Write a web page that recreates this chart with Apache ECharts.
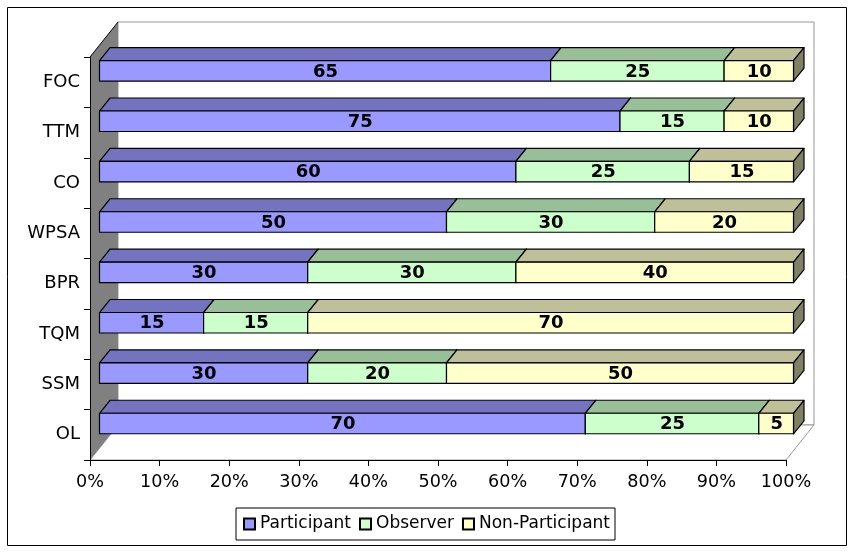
<!DOCTYPE html>
<html><head><meta charset="utf-8">
<style>html,body{margin:0;padding:0;background:#fff}#c{width:854px;height:552px}</style>
<script src="https://cdn.jsdelivr.net/npm/echarts@6/dist/echarts.min.js"></script>
</head><body><div id="c"></div>
<script>
// categories, bottom to top as on the axis
var categories = ['OL','SSM','TQM','BPR','WPSA','CO','TTM','FOC'];
var participant    = [70,30,15,30,50,60,75,65];
var observer       = [25,20,15,30,30,25,15,25];
var nonParticipant = [ 5,50,70,40,20,15,10,10];
var seriesNames = ['Participant','Observer','Non-Participant'];
var frontColors = ['#9999FF','#CCFFCC','#FFFFCC'];
var topColors   = ['#7373BF','#99BF99','#BFBF99'];
var sideColors  = ['#4D4D80','#668066','#808066'];

// 3-D projection constants (pixels)
var WALL_DX = 28, WALL_DY = -35;     // depth of the whole box
var BAR_DX = 10.5, BAR_DY = -13;     // depth of a bar
var BAR_SHIFT_X = 9.5;               // bar front plane relative to axis plane
var BAR_H = 20.5;                    // front face height
var BAR_CENTER_SHIFT = -11.3;        // bar front centre relative to band centre

var chart = echarts.init(document.getElementById('c'), null, {renderer:'canvas'});
var FONT = 'DejaVu Sans';

function wallItem(params, api) {
  var p0 = api.coord([0, 0]), p1 = api.coord([100, 0]);
  var band = api.size([0, 1])[1];
  var left = p0[0], right = p1[0];
  var bottom = p0[1] + band / 2;
  var top = bottom - band * categories.length;
  var dx = WALL_DX, dy = WALL_DY;
  return {type:'group', children:[
    {type:'polygon', shape:{points:[[left+dx,top+dy],[right+dx,top+dy],[right+dx,bottom+dy],[left+dx,bottom+dy]]},
      style:{fill:'#fff', stroke:'#999', lineWidth:1}},
    {type:'polygon', shape:{points:[[left,bottom],[right,bottom],[right+dx,bottom+dy],[left+dx,bottom+dy]]},
      style:{fill:'#fff', stroke:'#999', lineWidth:1}},
    {type:'polygon', shape:{points:[[left,top],[left+dx,top+dy],[left+dx,bottom+dy],[left,bottom]]},
      style:{fill:'#808080', stroke:null}},
    {type:'line', shape:{x1:left,y1:top,x2:left+dx,y2:top+dy}, style:{stroke:'#000', lineWidth:1}}
  ]};
}

function barItem(params, api) {
  var idx = api.value(0), start = api.value(1), val = api.value(2), s = params.seriesIndex - 1;
  var origin = api.coord([0, idx]), full = api.coord([100, idx]);
  var k = 694 / (full[0] - origin[0]);
  function px(v){ return origin[0] + BAR_SHIFT_X + (api.coord([v, idx])[0] - origin[0]) * k; }
  var x0 = px(start), x1 = px(start + val);
  var yc = origin[1] + BAR_CENTER_SHIFT;
  var y0 = yc - BAR_H / 2, y1 = yc + BAR_H / 2;
  var dx = BAR_DX, dy = BAR_DY;
  var edge = {stroke:'#000', lineWidth:1.2, lineJoin:'round'};
  return {type:'group', children:[
    {type:'polygon', shape:{points:[[x0,y0],[x0+dx,y0+dy],[x1+dx,y0+dy],[x1,y0]]},
      style:Object.assign({fill:topColors[s]}, edge)},
    {type:'polygon', shape:{points:[[x1,y0],[x1+dx,y0+dy],[x1+dx,y1+dy],[x1,y1]]},
      style:Object.assign({fill:sideColors[s]}, edge)},
    {type:'rect', shape:{x:x0,y:y0,width:x1-x0,height:y1-y0},
      style:Object.assign({fill:frontColors[s]}, edge)},
    {type:'text', x:(x0+x1)/2 + 0.5, y:yc + 1, style:{text:String(val), fill:'#000',
      font:'bold 18px "'+FONT+'"', textAlign:'center', textVerticalAlign:'middle'}}
  ]};
}

function stackRows(i) {
  var all = [participant, observer, nonParticipant];
  return categories.map(function(c, r){
    var st = 0;
    for (var k = 0; k < i; k++) st += all[k][r];
    return [r, st, all[i][r]];
  });
}

var series = [{
  type:'custom', name:'wall', silent:true, renderItem:wallItem, data:[[0]],
  encode:{x:0}, z:1, animation:false, clip:false
}];
seriesNames.forEach(function(n,i){
  series.push({
    type:'custom', name:n, renderItem:barItem, data:stackRows(i),
    encode:{y:0, x:[1,2]}, z:2, clip:false, animation:false,
    itemStyle:{color:frontColors[i], borderColor:'#000', borderWidth:1}
  });
});

chart.setOption({
  animation:false,
  backgroundColor:'#fff',
  graphic:[{type:'rect', shape:{x:7.5,y:7.5,width:839,height:538}, z:-10, silent:true,
    style:{fill:'#fff', stroke:'#000', lineWidth:1}}],
  grid:{left:90, right:68, top:57, bottom:92, containLabel:false},
  xAxis:{type:'value', min:0, max:100, interval:10, z:5,
    axisLabel:{formatter:'{value}%', color:'#000', fontFamily:FONT, fontSize:17.6, margin:13},
    axisLine:{show:true, lineStyle:{color:'#000', width:1}},
    axisTick:{show:true, length:6, lineStyle:{color:'#000'}},
    splitLine:{show:false}},
  yAxis:{type:'category', data:categories, z:5,
    axisLabel:{color:'#000', fontFamily:FONT, fontSize:18, margin:10, padding:[2,0,0,0]},
    axisLine:{show:true, onZero:false, lineStyle:{color:'#000', width:1}},
    axisTick:{show:true, length:6, alignWithLabel:false, lineStyle:{color:'#000'}},
    splitLine:{show:false}},
  legend:{data:seriesNames, left:236, top:508, orient:'horizontal',
    itemWidth:11, itemHeight:11, itemGap:8, padding:[7.5,5,7.5,7],
    icon:'rect', backgroundColor:'#fff', borderColor:'#000', borderWidth:1, borderRadius:0,
    textStyle:{color:'#000', fontFamily:FONT, fontSize:17, padding:[1,0,0,0]}},
  series:series
});
</script></body></html>
